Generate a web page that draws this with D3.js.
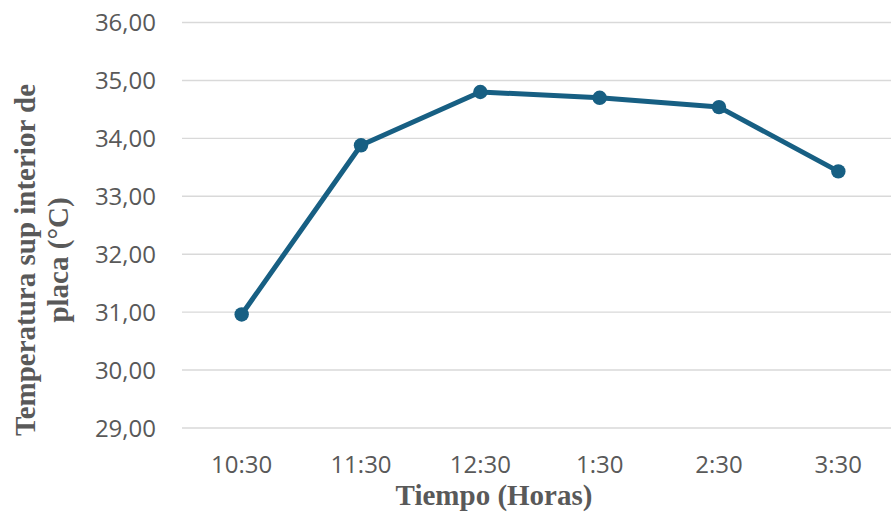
<!DOCTYPE html>
<html>
<head>
<meta charset="utf-8">
<script src="https://cdn.jsdelivr.net/npm/d3@7/dist/d3.min.js"></script>
<style>
  html, body { margin: 0; padding: 0; background: #ffffff; }
  svg { display: block; }
</style>
</head>
<body>
<svg id="chart" width="891" height="519"></svg>
<script>
const categories = ["10:30", "11:30", "12:30", "1:30", "2:30", "3:30"];
const temperatures = [30.96, 33.88, 34.80, 34.70, 34.54, 33.43];
const yTicks = [29, 30, 31, 32, 33, 34, 35, 36];
const xTitle = "Tiempo (Horas)";
const yTitleLines = ["Temperatura sup interior de", "placa (°C)"];

const W = 891, H = 519;
const plot = { left: 182, right: 898, top: 22.5, bottom: 428 };
const svg = d3.select("#chart");

const x = d3.scaleBand().domain(categories).range([plot.left, plot.right]);
const y = d3.scaleLinear().domain([29, 36]).range([plot.bottom, plot.top]);

// gridlines
svg.append("g").selectAll("line").data(yTicks).join("line")
  .attr("x1", plot.left).attr("x2", plot.right)
  .attr("y1", d => y(d)).attr("y2", d => y(d))
  .attr("stroke", "#d9d9d9").attr("stroke-width", 1.4);

// y tick labels
svg.append("g").selectAll("text").data(yTicks).join("text")
  .attr("x", 156).attr("y", d => y(d) + 8.5)
  .attr("text-anchor", "end")
  .attr("font-family", "'Open Sans', sans-serif")
  .attr("font-size", 24).attr("fill", "#595959")
  .text(d => d.toFixed(2).replace(".", ","));

// x tick labels
svg.append("g").selectAll("text").data(categories).join("text")
  .attr("x", d => x(d) + x.bandwidth() / 2).attr("y", 473)
  .attr("text-anchor", "middle")
  .attr("font-family", "'Open Sans', sans-serif")
  .attr("font-size", 24).attr("fill", "#595959")
  .text(d => d);

const color = "#175f83";
const line = d3.line()
  .x((d, i) => x(categories[i]) + x.bandwidth() / 2)
  .y(d => y(d));

svg.append("path").datum(temperatures)
  .attr("d", line)
  .attr("fill", "none").attr("stroke", color)
  .attr("stroke-width", 5).attr("stroke-linejoin", "round");

svg.append("g").selectAll("circle").data(temperatures).join("circle")
  .attr("cx", (d, i) => x(categories[i]) + x.bandwidth() / 2)
  .attr("cy", d => y(d))
  .attr("r", 7.2).attr("fill", color);

// x title
svg.append("text")
  .attr("x", 494).attr("y", 505)
  .attr("text-anchor", "middle")
  .attr("font-family", "'Liberation Serif', 'Times New Roman', serif")
  .attr("font-weight", "bold").attr("font-size", 29).attr("fill", "#595959")
  .text(xTitle);

// y title
const yt = svg.append("text")
  .attr("transform", "translate(35,260) rotate(-90)")
  .attr("text-anchor", "middle")
  .attr("font-family", "'Liberation Serif', 'Times New Roman', serif")
  .attr("font-weight", "bold").attr("font-size", 29).attr("fill", "#595959");
yt.selectAll("tspan").data(yTitleLines).join("tspan")
  .attr("x", 0).attr("dy", (d, i) => i === 0 ? 0 : 33)
  .text(d => d);
</script>
</body>
</html>
